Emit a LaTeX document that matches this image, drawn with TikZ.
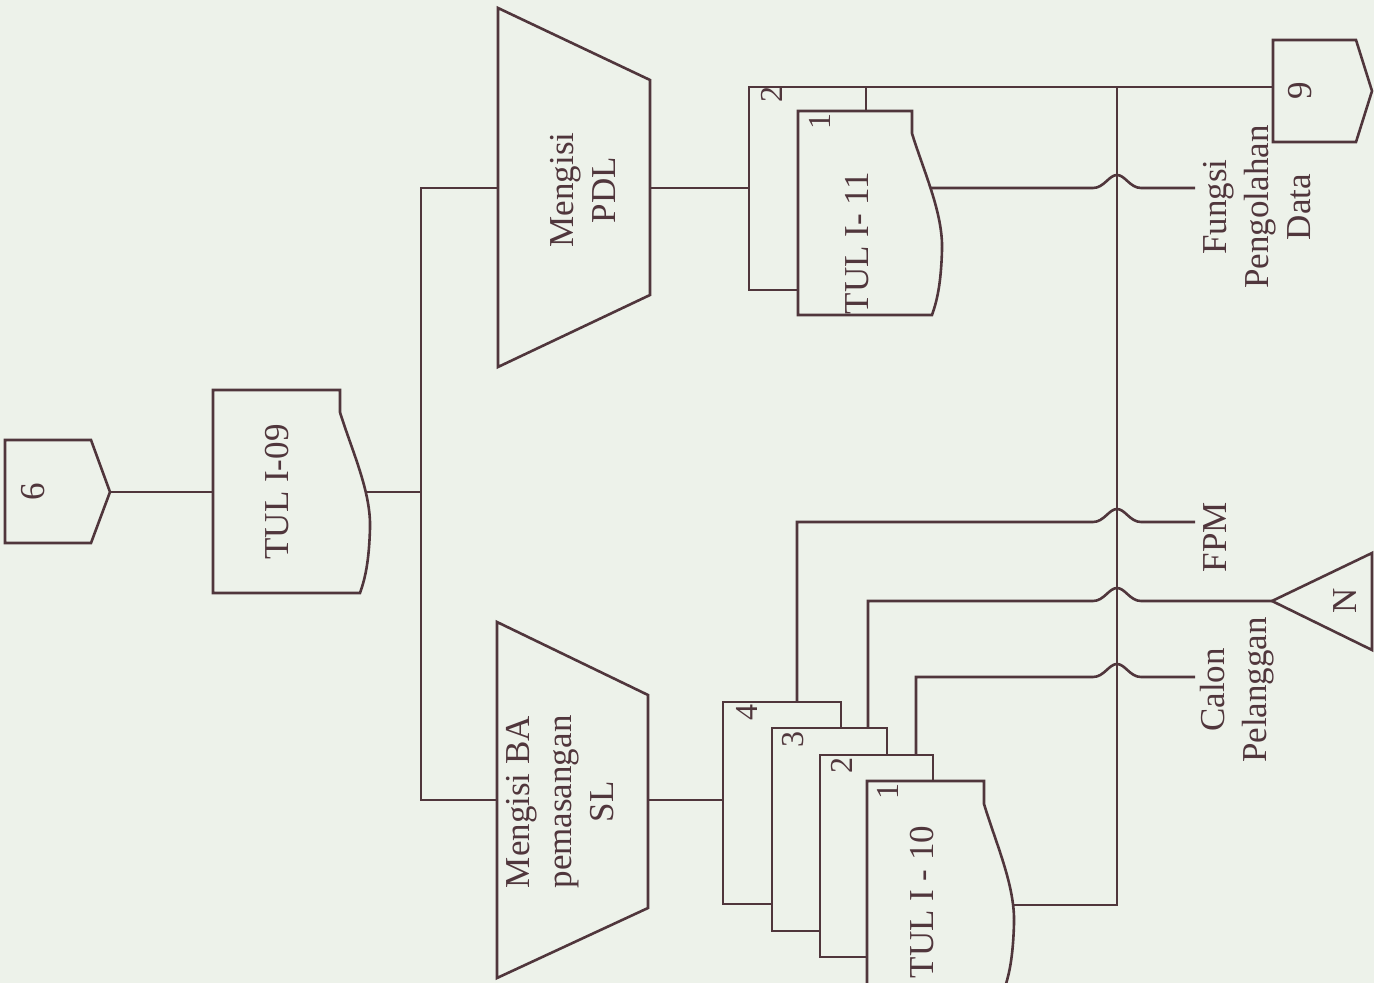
\documentclass[tikz,border=0pt]{standalone}
\usepackage{fontspec}
\setmainfont{Liberation Serif}
\definecolor{ink}{RGB}{80,54,60}
\definecolor{paper}{RGB}{237,242,234}
\tikzset{
  ln/.style={draw=ink, line width=1.3pt, line join=miter},
  shp/.style={draw=ink, line width=1.3pt, fill=paper},
  lbl/.style={text=ink, font=\fontsize{17.5}{21}\selectfont, rotate=90, align=center, inner sep=0pt},
  num/.style={text=ink, font=\fontsize{16}{18}\selectfont, rotate=90, inner sep=0pt}
}
\newcommand{\tuldoc}[4]{% L, T, R, B
  \path[shp] (#1,#2) -- (#3,#2) -- (#3,{#2+0.11*(#4-#2)})
    .. controls ({#3+12},{#2+0.3*(#4-#2)}) and ({#3+31},{#2+0.5*(#4-#2)}) .. ({#3+30},{#2+0.68*(#4-#2)})
    .. controls ({#3+29},{#2+0.85*(#4-#2)}) and ({#3+25},{#2+0.93*(#4-#2)}) .. ({#3+20},#4)
    -- (#1,#4) -- cycle;}
\begin{document}
\begin{tikzpicture}[x=0.5pt,y=-0.5pt]
\fill[paper] (0,0) rectangle (1374,983);
\useasboundingbox (0,0) rectangle (1374,983);

% connection points
\coordinate (c6) at (110,492);
\coordinate (t09) at (300,492);
\coordinate (sp) at (421,492);
\coordinate (spT) at (421,188);
\coordinate (spB) at (421,800);
\coordinate (pdlL) at (500,188);
\coordinate (pdlR) at (640,188);
\coordinate (baL) at (500,800);
\coordinate (baR) at (640,800);
\coordinate (d11) at (760,188);
\coordinate (d11top) at (860,87);
\coordinate (bus) at (1117,87);
\coordinate (busB) at (1117,905);
\coordinate (c9) at (1280,87);
\coordinate (d10w) at (990,905);
\coordinate (d4) at (730,800);
\coordinate (d4top) at (797,710);
\coordinate (d3top) at (868,740);
\coordinate (d2top) at (916,765);
\coordinate (d11w) at (915,188);
\coordinate (fungE) at (1195,188);
\coordinate (fpmE) at (1195,522);
\coordinate (nTip) at (1272,601);
\coordinate (calE) at (1195,677);

% connectors (drawn first, shapes cover their ends)
\draw[ln] (c6) -- (t09);
\draw[ln] (t09) -- (sp);
\draw[ln] (pdlL) -| (spT) -- (spB) -- (baL);
\draw[ln] (pdlR) -- (d11);
\draw[ln] (baR) -- (d4);
\draw[ln] (d11top) -- (bus) -- (c9);
\draw[ln] (bus) -- (busB) -- (d10w);
\draw[ln] (d11w) -- (1093,188) .. controls (1104,188) and (1109,175) .. (1117,175)
  .. controls (1125,175) and (1130,188) .. (1141,188) -- (fungE);
\draw[ln] (d4top) -- (797,522) -- (1093,522) .. controls (1104,522) and (1109,509) .. (1117,509)
  .. controls (1125,509) and (1130,522) .. (1141,522) -- (fpmE);
\draw[ln] (d3top) -- (868,601) -- (1093,601) .. controls (1104,601) and (1109,588) .. (1117,588)
  .. controls (1125,588) and (1130,601) .. (1141,601) -- (nTip);
\draw[ln] (d2top) -- (916,677) -- (1093,677) .. controls (1104,677) and (1109,664) .. (1117,664)
  .. controls (1125,664) and (1130,677) .. (1141,677) -- (calE);

% off-page connectors
\path[shp] (5,440) -- (91,440) -- (110,492) -- (91,543) -- (5,543) -- cycle;
\path[shp] (1273,40) -- (1356,40) -- (1372,91) -- (1356,142) -- (1273,142) -- cycle;
\path[shp] (1272,601) -- (1372,553) -- (1372,650) -- cycle;

% manual operations
\path[shp] (498,8) -- (650,80) -- (650,295) -- (498,367) -- cycle;
\path[shp] (497,622) -- (648,695) -- (648,908) -- (497,978) -- cycle;

% documents
\tuldoc{213}{390}{340}{593}
\path[shp] (749,87) rectangle (866,290);
\tuldoc{798}{111}{912}{315}
\path[shp] (723,702) rectangle (841,904);
\path[shp] (772,728) rectangle (887,931);
\path[shp] (820,755) rectangle (933,957);
\tuldoc{867}{781}{984}{990}

% texts
\node[lbl] (n6) at (33,492) {6};
\node[lbl] (n09) at (277,492) {TUL I-09};
\node[lbl] (npdl) at (583,190) {Mengisi\\PDL};
\node[lbl] (nba) at (560,802) {Mengisi BA\\pemasangan\\SL};
\node[lbl] (n11) at (857,243) {TUL I- 11};
\node[lbl] (n10) at (922,902) {TUL I - 10};
\node[lbl] (nfung) at (1257,207) {Fungsi\\Pengolahan\\Data};
\node[lbl] (nfpm) at (1215,537) {FPM};
\node[lbl] (ncal) at (1237,690) {Calon\\Pelanggan};
\node[lbl] (n9) at (1300,91) {9};
\node[lbl] (nN) at (1345,601) {N};
\node[num] (k112) at (772,95) {2};
\node[num] (k111) at (820,122) {1};
\node[num] (k104) at (747,712) {4};
\node[num] (k103) at (793,739) {3};
\node[num] (k102) at (842,765) {2};
\node[num] (k101) at (888,791) {1};
\end{tikzpicture}
\end{document}
